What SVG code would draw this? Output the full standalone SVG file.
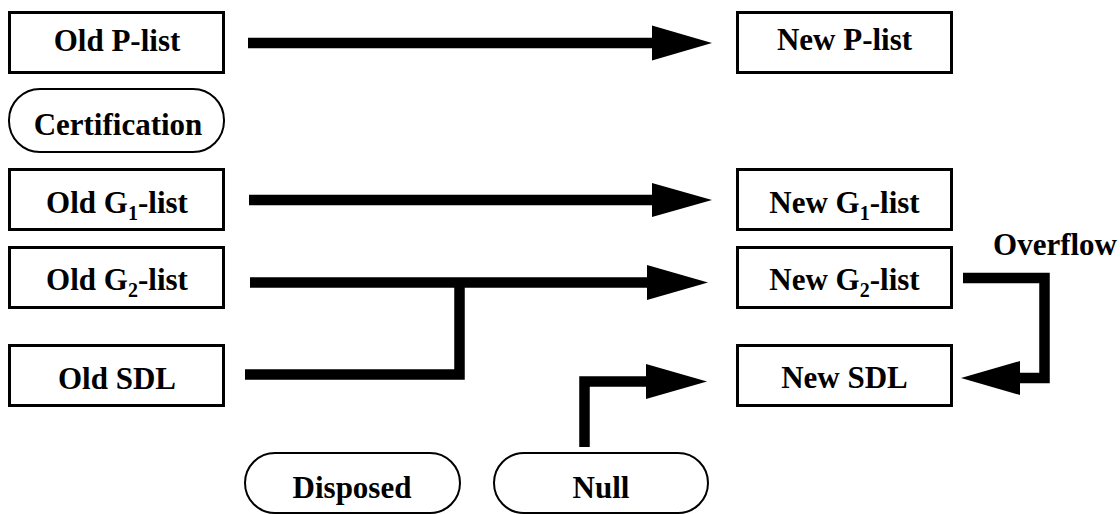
<svg xmlns="http://www.w3.org/2000/svg" width="1120" height="514" viewBox="0 0 1120 514">
<style>
.box{fill:#fff;stroke:#000;stroke-width:3}
.pill{fill:#fff;stroke:#000;stroke-width:2}
.t{font-family:'Liberation Serif','Times New Roman',serif;font-weight:700;font-size:31px;fill:#000;text-anchor:middle}
.sub{font-size:20px}
.ln{fill:none;stroke:#000;stroke-width:10.5;stroke-linecap:butt;stroke-linejoin:miter}
.hd{fill:#000}
</style>
<rect width="1120" height="514" fill="#fff"/>
<g id="old-p-list"><rect class="box" x="9.5" y="12.5" width="214" height="60"/><text class="t" x="117" y="51">Old P-list</text></g>
<g id="certification"><rect class="pill" x="9" y="89" width="215" height="63" rx="31" ry="31"/><text class="t" x="118" y="135">Certification</text></g>
<g id="old-g1-list"><rect class="box" x="9.5" y="169.5" width="214" height="60"/><text class="t" x="117" y="213">Old G<tspan class="sub" dy="7">1</tspan><tspan dy="-7">-list</tspan></text></g>
<g id="old-g2-list"><rect class="box" x="9.5" y="247.5" width="214" height="60"/><text class="t" x="117" y="290">Old G<tspan class="sub" dy="7">2</tspan><tspan dy="-7">-list</tspan></text></g>
<g id="old-sdl"><rect class="box" x="9.5" y="345.5" width="214" height="60"/><text class="t" x="117" y="389">Old SDL</text></g>
<g id="new-p-list"><rect class="box" x="737.5" y="12.5" width="214" height="60"/><text class="t" x="844.5" y="50">New P-list</text></g>
<g id="new-g1-list"><rect class="box" x="737.5" y="169.5" width="214" height="60"/><text class="t" x="844.5" y="213">New G<tspan class="sub" dy="7">1</tspan><tspan dy="-7">-list</tspan></text></g>
<g id="new-g2-list"><rect class="box" x="737.5" y="247.5" width="214" height="60"/><text class="t" x="844.5" y="290">New G<tspan class="sub" dy="7">2</tspan><tspan dy="-7">-list</tspan></text></g>
<g id="new-sdl"><rect class="box" x="737.5" y="345.5" width="214" height="60"/><text class="t" x="844.5" y="388">New SDL</text></g>
<g id="disposed"><rect class="pill" x="245" y="453" width="215" height="60" rx="30" ry="30"/><text class="t" x="352" y="498">Disposed</text></g>
<g id="null"><rect class="pill" x="494" y="453" width="214" height="60" rx="30" ry="30"/><text class="t" x="601" y="498">Null</text></g>
<g id="overflow-label"><text class="t" x="1055" y="255">Overflow</text></g>
<g id="connectors">
<path class="ln" d="M248,43 H653"/><polygon class="hd" points="652,25.5 712,43 652,60.5"/>
<path class="ln" d="M249,200 H653"/><polygon class="hd" points="652,183 712,200 652,217"/>
<path class="ln" d="M250,282.5 H648"/><polygon class="hd" points="647,265 708,282.5 647,300"/>
<path class="ln" d="M245,374.5 H459.5 V282"/>
<path class="ln" d="M584.5,447 V381.5 H647"/><polygon class="hd" points="646,364 707,381.5 646,399"/>
<path class="ln" d="M963,278 H1044.5 V378 H1019"/><polygon class="hd" points="1020,361 961,378 1020,395"/>
</g>
</svg>
